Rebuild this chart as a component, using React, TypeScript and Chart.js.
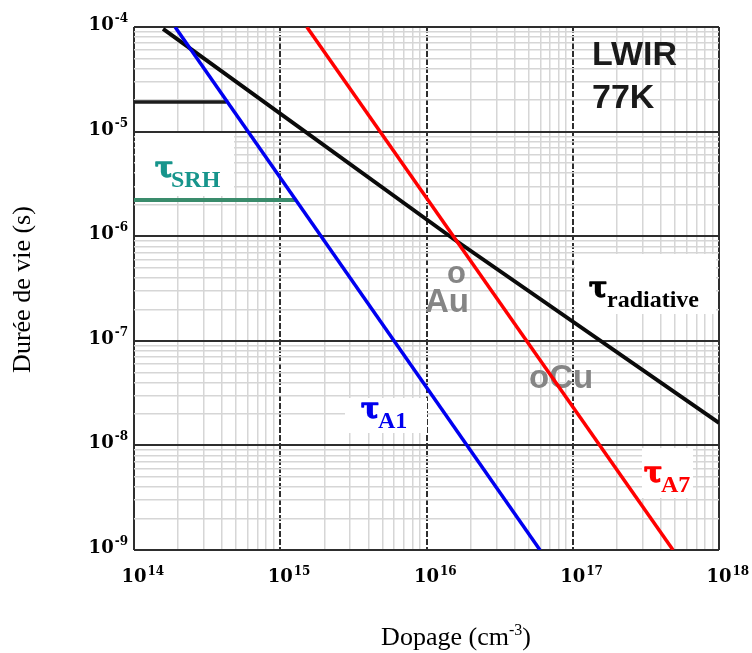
import React, { useEffect, useRef } from "react";
import { Chart, registerables } from "chart.js";
Chart.register(...registerables);

// ---- tick labels (exponents of ten) ----
const xTickExps = [14, 15, 16, 17, 18];
const yTickExps = [-9, -8, -7, -6, -5, -4];

// ---- series (doping cm^-3, lifetime s) ----
const auger1X = [1.91e14, 5.97e16];
const auger1Y = [1e-4, 1e-9];
const auger7X = [1.52e15, 4.85e17];
const auger7Y = [1e-4, 1e-9];
const radiativeX = [1.58e14, 1.55e16, 1e18];
const radiativeY = [9.6e-5, 9.3e-7, 1.64e-8];
const plateauX = [1e14, 4.3e14];
const plateauY = [1.92e-5, 1.92e-5];
const srhX = [1e14, 1.28e15];
const srhY = [2.22e-6, 2.22e-6];

const toPts = (xs: number[], ys: number[]) => xs.map((x, i) => ({ x, y: ys[i] }));

const isMajor = (v: number) => {
  const l = Math.log10(v);
  return Math.abs(l - Math.round(l)) < 1e-6;
};

const logTicks = (e0: number, e1: number) => {
  const out: { value: number }[] = [];
  for (let e = e0; e < e1; e++) {
    for (let m = 1; m <= 9; m++) out.push({ value: m * Math.pow(10, e) });
  }
  out.push({ value: Math.pow(10, e1) });
  return out;
};

const SERIF = "'Liberation Serif', 'Times New Roman', serif";
const TICKFONT = "'DejaVu Serif', serif";
const SANS = "'Liberation Sans', Arial, sans-serif";

function drawTau(ctx: CanvasRenderingContext2D, sub: string, x: number, base: number, subX: number, subBase: number, color: string) {
  ctx.fillStyle = color;
  ctx.strokeStyle = color;
  ctx.textAlign = "left";
  ctx.textBaseline = "alphabetic";
  ctx.font = `bold 27px 'DejaVu Serif', serif`;
  ctx.fillText("τ", x, base);
  ctx.lineWidth = 1.4;
  ctx.lineJoin = "round";
  ctx.strokeText("τ", x, base);
  ctx.font = `bold 24px ${SERIF}`;
  ctx.fillText(sub, subX, subBase);
}

const decorPlugin = {
  id: "decor",
  beforeDatasetsDraw(chart: any) {
    const ctx: CanvasRenderingContext2D = chart.ctx;
    const a = chart.chartArea;
    const L = a.left, T = a.top;
    ctx.save();
    ctx.fillStyle = "#ffffff";
    const boxes = [
      [L + 1, T + 106, L + 100, T + 169],
      [L + 441, T + 227, L + 582, T + 287],
      [L + 211, T + 371, L + 293, T + 406],
      [L + 508, T + 421, L + 559, T + 471],
    ];
    for (const b of boxes) ctx.fillRect(b[0], b[1], b[2] - b[0], b[3] - b[1]);

    ctx.fillStyle = "#858585";
    ctx.textAlign = "left";
    ctx.textBaseline = "alphabetic";
    ctx.font = `bold 31px ${SANS}`;
    ctx.fillText("o", L + 313, T + 256);
    ctx.font = `bold 33px ${SANS}`;
    ctx.fillText("Au", L + 291, T + 285);
    ctx.fillText("oCu", L + 395, T + 361);

    ctx.fillStyle = "#1a1a1a";
    ctx.font = `bold 34px ${SANS}`;
    ctx.fillText("LWIR", L + 458, T + 38);
    ctx.fillText("77K", L + 458, T + 81);
    ctx.restore();
  },
  afterDatasetsDraw(chart: any) {
    const ctx: CanvasRenderingContext2D = chart.ctx;
    const a = chart.chartArea;
    const L = a.left, T = a.top;
    ctx.save();
    drawTau(ctx, "SRH", L + 21, T + 150, L + 37, T + 160, "#17958c");
    drawTau(ctx, "radiative", L + 455, T + 270, L + 473, T + 280, "#000000");
    drawTau(ctx, "A1", L + 227, T + 391, L + 244, T + 401, "#0000ee");
    drawTau(ctx, "A7", L + 510, T + 455, L + 527, T + 465, "#ff0000");
    ctx.restore();
  },
  afterDraw(chart: any) {
    const ctx: CanvasRenderingContext2D = chart.ctx;
    const a = chart.chartArea;
    const xs = chart.scales.x;
    const ys = chart.scales.y;
    ctx.save();
    ctx.fillStyle = "#000";
    ctx.textBaseline = "alphabetic";
    ctx.textAlign = "left";
    const baseFont = `bold 18px ${TICKFONT}`;
    const supFont = `bold 12px ${TICKFONT}`;

    // y tick labels
    for (const e of yTickExps) {
      const py = ys.getPixelForValue(Math.pow(10, e));
      ctx.font = supFont;
      const supTxt = "-" + String(Math.abs(e));
      const ws = ctx.measureText(supTxt).width;
      ctx.font = baseFont;
      const wb = ctx.measureText("10").width;
      const right = a.left - 6;
      const x0 = right - ws - wb - 1;
      const base = py + 3;
      ctx.fillText("10", x0, base);
      ctx.font = supFont;
      ctx.fillText(supTxt, x0 + wb + 1, base - 8);
    }
    // x tick labels
    for (const e of xTickExps) {
      const px = xs.getPixelForValue(Math.pow(10, e));
      ctx.font = baseFont;
      const wb = ctx.measureText("10").width;
      const x0 = px - wb / 2;
      const base = 582;
      ctx.fillText("10", x0, base);
      ctx.font = supFont;
      ctx.fillText(String(e), x0 + wb + 1, base - 7);
    }

    // axis titles
    ctx.font = `26px ${SERIF}`;
    ctx.save();
    ctx.translate(30, (a.top + a.bottom) / 2 + 1);
    ctx.rotate(-Math.PI / 2);
    ctx.textAlign = "center";
    ctx.fillText("Durée de vie (s)", 0, 0);
    ctx.restore();

    const p1 = "Dopage (cm";
    const p2 = "-3";
    const p3 = ")";
    ctx.font = `26px ${SERIF}`;
    const w1 = ctx.measureText(p1).width;
    const w3 = ctx.measureText(p3).width;
    ctx.font = `16px ${SERIF}`;
    const w2 = ctx.measureText(p2).width;
    const total = w1 + w2 + w3;
    const cx = 456;
    let x = cx - total / 2;
    const base = 645;
    ctx.textAlign = "left";
    ctx.font = `26px ${SERIF}`;
    ctx.fillText(p1, x, base);
    x += w1;
    ctx.font = `16px ${SERIF}`;
    ctx.fillText(p2, x, base - 10);
    x += w2;
    ctx.font = `26px ${SERIF}`;
    ctx.fillText(p3, x, base);
    ctx.restore();
  },
};

const gridOpts = {
  color: (c: any) => (c.tick && isMajor(c.tick.value) ? "#2e2e2e" : "#d6d6d6"),
  lineWidth: (c: any) => (c.tick && isMajor(c.tick.value) ? 2 : 1.5),
  drawTicks: false,
};

export default function App() {
  const ref = useRef<HTMLCanvasElement | null>(null);
  useEffect(() => {
    document.body.style.margin = "0";
    if (!ref.current) return;
    const chart = new Chart(ref.current, {
      type: "line",
      data: {
        datasets: [
          { label: "τA1", data: toPts(auger1X, auger1Y), borderColor: "#0000f0", borderWidth: 3.5 },
          { label: "τA7", data: toPts(auger7X, auger7Y), borderColor: "#ff0000", borderWidth: 3.5 },
          { label: "τradiative", data: toPts(radiativeX, radiativeY), borderColor: "#0a0a0a", borderWidth: 4 },
          { label: "plateau", data: toPts(plateauX, plateauY), borderColor: "#1c1c1c", borderWidth: 3.5 },
          { label: "τSRH", data: toPts(srhX, srhY), borderColor: "#3a8c6c", borderWidth: 4 },
        ].map((d) => ({ ...d, pointRadius: 0, tension: 0, fill: false })),
      },
      options: {
        animation: false,
        responsive: false,
        devicePixelRatio: 1,
        layout: { padding: { left: 134, top: 27, right: 33, bottom: 103 } },
        plugins: { legend: { display: false }, tooltip: { enabled: false } },
        scales: {
          x: {
            type: "logarithmic",
            min: 1e14,
            max: 1e18,
            afterBuildTicks: (s: any) => {
              s.ticks = logTicks(14, 18);
            },
            ticks: { display: false },
            grid: gridOpts,
            border: {
              display: false,
              dash: (c: any) => {
                const v = c.tick ? c.tick.value : 0;
                return isMajor(v) && v > 1.5e14 && v < 5e17 ? [6, 2] : [];
              },
            },
          },
          y: {
            type: "logarithmic",
            min: 1e-9,
            max: 1e-4,
            afterBuildTicks: (s: any) => {
              s.ticks = logTicks(-9, -4);
            },
            ticks: { display: false },
            grid: gridOpts,
            border: { display: false },
          },
        },
      } as any,
      plugins: [decorPlugin],
    });
    return () => chart.destroy();
  }, []);
  return (
    <div style={{ width: 752, height: 653, position: "relative" }}>
      <canvas ref={ref} width={752} height={653} style={{ display: "block" }} />
    </div>
  );
}
